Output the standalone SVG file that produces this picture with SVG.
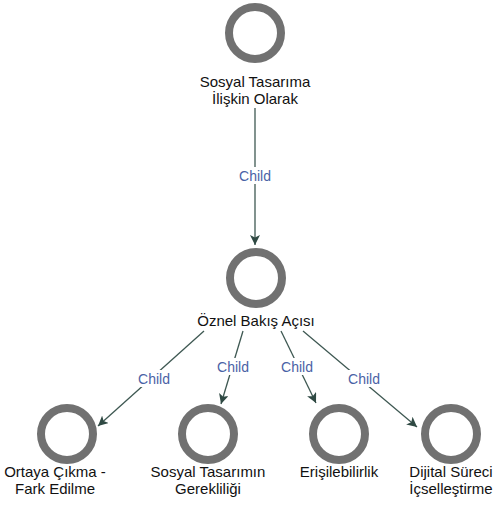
<svg xmlns="http://www.w3.org/2000/svg" width="494" height="510" viewBox="0 0 494 510">
  <style>
    .ring { fill: #ffffff; stroke: #717171; stroke-width: 8; }
    .name { font-family: "Liberation Sans", Arial, sans-serif; font-size: 15px; fill: #111111; text-anchor: middle; }
    .edge { stroke: #3e5852; stroke-width: 1.3; fill: none; }
    .tag-bg { fill: #ffffff; }
    .tag { font-family: "Liberation Sans", Arial, sans-serif; font-size: 14px; fill: #4a62a6; text-anchor: middle; }
  </style>
  <defs>
    <marker id="tip" viewBox="0 0 10 10" refX="10" refY="5" markerWidth="10" markerHeight="10" markerUnits="userSpaceOnUse" orient="auto">
      <path d="M0,0 L10,5 L0,10 L2.5,5 Z" fill="#2f4943"/>
    </marker>
  </defs>
  <rect width="494" height="510" fill="#ffffff"/>

  <g id="connectors">
    <line class="edge" x1="255" y1="108" x2="255" y2="245" marker-end="url(#tip)"/>
    <rect class="tag-bg" x="236" y="167" width="38" height="17"/>
    <text class="tag" x="255" y="181">Child</text>

    <line class="edge" x1="204" y1="331" x2="98" y2="426" marker-end="url(#tip)"/>
    <rect class="tag-bg" x="135" y="370" width="38" height="17"/>
    <text class="tag" x="154" y="384">Child</text>

    <line class="edge" x1="243" y1="331" x2="221" y2="404" marker-end="url(#tip)"/>
    <rect class="tag-bg" x="214" y="358" width="38" height="17"/>
    <text class="tag" x="233" y="372">Child</text>

    <line class="edge" x1="281" y1="331" x2="316" y2="403" marker-end="url(#tip)"/>
    <rect class="tag-bg" x="278" y="358" width="38" height="17"/>
    <text class="tag" x="297" y="372">Child</text>

    <line class="edge" x1="303" y1="331" x2="417" y2="427" marker-end="url(#tip)"/>
    <rect class="tag-bg" x="345" y="370" width="38" height="17"/>
    <text class="tag" x="364" y="384">Child</text>
  </g>

  <g id="node-sosyal-tasarima">
    <circle class="ring" cx="255" cy="33" r="26"/>
    <text class="name" x="255" y="87">Sosyal Tasarıma</text>
    <text class="name" x="255" y="104">İlişkin Olarak</text>
  </g>

  <g id="node-oznel-bakis">
    <circle class="ring" cx="256" cy="278" r="26"/>
    <text class="name" x="256" y="326">Öznel Bakış Açısı</text>
  </g>

  <g id="node-ortaya-cikma">
    <circle class="ring" cx="67" cy="434" r="26"/>
    <text class="name" x="55" y="477">Ortaya Çıkma -</text>
    <text class="name" x="55" y="494">Fark Edilme</text>
  </g>

  <g id="node-sosyal-tasarimin">
    <circle class="ring" cx="208" cy="434" r="26"/>
    <text class="name" x="208" y="477">Sosyal Tasarımın</text>
    <text class="name" x="208" y="494">Gerekliliği</text>
  </g>

  <g id="node-erisilebilirlik">
    <circle class="ring" cx="339" cy="434" r="26"/>
    <text class="name" x="339" y="477">Erişilebilirlik</text>
  </g>

  <g id="node-dijital">
    <circle class="ring" cx="451" cy="434" r="26"/>
    <text class="name" x="451" y="477">Dijital Süreci</text>
    <text class="name" x="451" y="494">İçselleştirme</text>
  </g>
</svg>
